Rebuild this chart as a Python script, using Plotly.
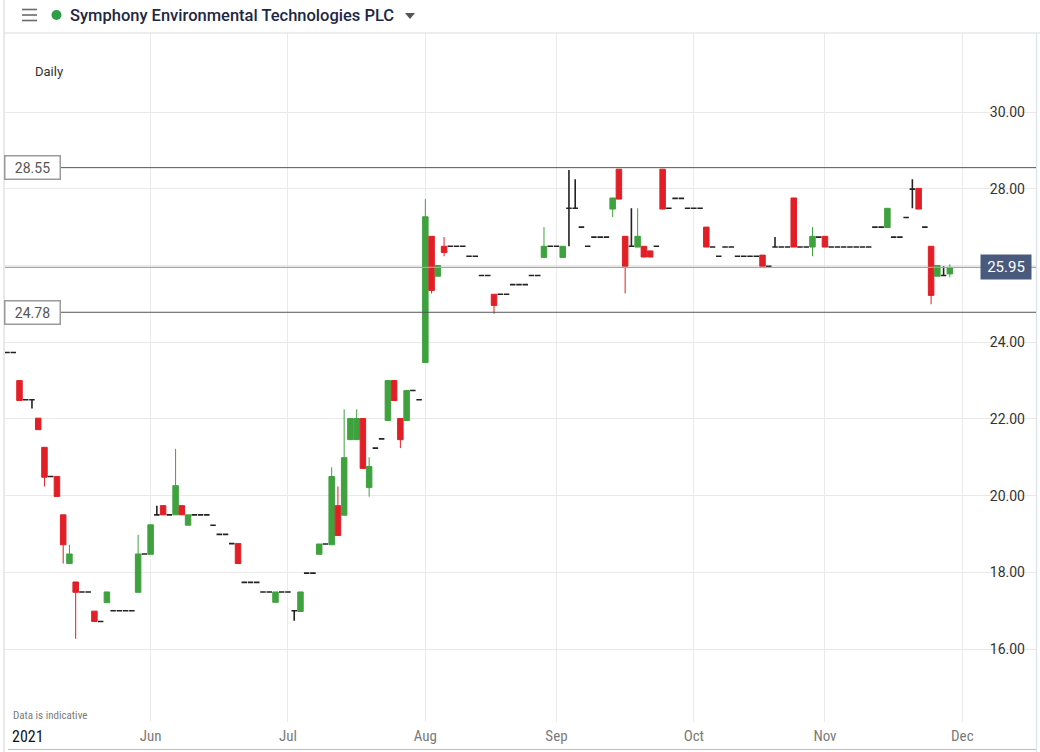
import pandas as pd
import plotly.graph_objects as go

# ---------------- data ----------------
title_text = "Symphony Environmental Technologies PLC"
interval_label = "Daily"
uk_holidays = ["2021-05-03", "2021-05-31", "2021-08-30", "2021-12-27", "2021-12-28"]
calendar = pd.bdate_range("2021-04-27", "2021-12-31", freq="C", holidays=uk_holidays)

open_ = [23.73, 23.73, 23.00, 22.50, 22.50, 22.02, 21.26, 20.50, 20.50, 19.50,
         18.23, 17.75, 17.49, 17.49, 16.99, 16.72, 17.21, 17.00, 17.00, 17.00,
         17.00, 17.48, 18.48, 18.47, 19.50, 19.74, 19.50, 19.50, 19.74, 19.23,
         19.50, 19.50, 19.50, 19.23, 18.99, 18.99, 18.75, 18.75, 17.74, 17.74,
         17.74, 17.49, 17.49, 17.22, 17.49, 17.49, 17.00, 16.98, 17.98, 17.98,
         18.47, 18.74, 18.72, 19.74, 19.49, 21.46, 21.46, 22.01, 20.21, 21.24,
         21.48, 21.96, 23.00, 22.01, 21.96, 22.74, 22.50, 23.47, 26.76, 25.72,
         26.50, 26.50, 26.50, 26.50, 26.24, 26.24, 25.74, 25.74, 25.25, 25.25,
         25.25, 25.50, 25.50, 25.50, 25.74, 25.74, 26.21, 26.50, 26.50, 26.21,
         27.49, 27.49, 27.00, 26.50, 26.74, 26.74, 26.74, 27.47, 28.51, 26.76,
         26.50, 26.48, 26.50, 26.38, 26.50, 28.51, 27.49, 27.75, 27.75, 27.49,
         27.49, 27.49, 27.00, 26.48, 26.24, 26.48, 26.48, 26.24, 26.24, 26.24,
         26.24, 26.27, 25.98, 26.48, 26.48, 26.48, 27.76, 26.48, 26.48, 26.48,
         26.74, 26.76, 26.48, 26.48, 26.48, 26.48, 26.48, 26.48, 26.48, 27.00,
         27.00, 26.99, 26.74, 26.74, 27.25, 27.99, 28.01, 27.00, 26.50, 25.72,
         25.74, 25.78]
high_ = [23.73, 23.73, 23.00, 22.50, 22.50, 22.02, 21.26, 20.50, 20.50, 19.50,
         18.72, 17.75, 17.49, 17.49, 16.99, 16.72, 17.49, 17.00, 17.00, 17.00,
         17.00, 18.98, 18.48, 19.24, 19.74, 19.74, 19.50, 21.22, 19.74, 19.50,
         19.50, 19.50, 19.50, 19.23, 18.99, 18.99, 18.75, 18.75, 17.74, 17.74,
         17.74, 17.49, 17.49, 17.49, 17.49, 17.49, 17.00, 17.49, 17.98, 17.98,
         18.74, 18.74, 20.74, 20.24, 22.25, 22.01, 22.25, 22.01, 21.00, 21.24,
         21.48, 23.00, 23.00, 22.01, 22.74, 22.74, 22.50, 27.73, 26.76, 26.00,
         26.74, 26.50, 26.50, 26.50, 26.24, 26.24, 25.74, 25.74, 25.25, 25.25,
         25.25, 25.50, 25.50, 25.50, 25.74, 25.74, 27.00, 26.50, 26.50, 26.50,
         28.49, 28.25, 27.00, 26.50, 26.74, 26.74, 26.74, 27.76, 28.51, 26.76,
         27.49, 27.49, 26.50, 26.38, 26.50, 28.51, 27.49, 27.75, 27.75, 27.49,
         27.49, 27.49, 27.00, 26.48, 26.24, 26.48, 26.48, 26.24, 26.24, 26.24,
         26.24, 26.27, 25.98, 26.74, 26.48, 26.48, 27.76, 26.48, 26.48, 27.00,
         26.74, 26.76, 26.48, 26.48, 26.48, 26.48, 26.48, 26.48, 26.48, 27.00,
         27.00, 27.49, 26.74, 26.74, 27.25, 28.25, 28.01, 27.00, 26.50, 26.00,
         25.98, 26.03]
low_ = [23.73, 23.73, 22.48, 22.50, 22.27, 21.72, 20.24, 20.50, 19.98, 18.23,
        18.23, 16.27, 17.49, 17.49, 16.72, 16.72, 17.21, 17.00, 17.00, 17.00,
        17.00, 17.48, 18.48, 18.47, 19.50, 19.50, 19.50, 19.50, 19.50, 19.23,
        19.50, 19.50, 19.50, 19.23, 18.99, 18.99, 18.75, 18.23, 17.74, 17.74,
        17.74, 17.49, 17.49, 17.22, 17.49, 17.49, 16.74, 16.98, 17.98, 17.98,
        18.47, 18.74, 18.72, 18.96, 19.49, 21.46, 21.46, 20.71, 19.97, 21.24,
        21.48, 21.96, 22.48, 21.24, 21.96, 22.74, 22.50, 23.47, 25.27, 25.72,
        26.24, 26.50, 26.50, 26.50, 26.24, 26.24, 25.74, 25.74, 24.74, 25.25,
        25.25, 25.50, 25.50, 25.50, 25.74, 25.74, 26.21, 26.50, 26.50, 26.21,
        26.50, 27.49, 27.00, 26.50, 26.74, 26.74, 26.74, 27.26, 27.73, 25.27,
        26.50, 26.48, 26.22, 26.22, 26.50, 27.47, 27.49, 27.75, 27.75, 27.49,
        27.49, 27.49, 26.48, 26.48, 26.24, 26.48, 26.48, 26.24, 26.24, 26.24,
        26.24, 25.98, 25.98, 26.48, 26.48, 26.48, 26.48, 26.48, 26.48, 26.24,
        26.74, 26.48, 26.48, 26.48, 26.48, 26.48, 26.48, 26.48, 26.48, 27.00,
        27.00, 26.99, 26.74, 26.74, 27.25, 27.49, 27.47, 27.00, 24.99, 25.72,
        25.74, 25.69]
close_ = [23.73, 23.73, 22.48, 22.50, 22.50, 21.72, 20.48, 20.50, 19.98, 18.72,
          18.48, 17.48, 17.49, 17.49, 16.72, 16.72, 17.49, 17.00, 17.00, 17.00,
          17.00, 18.48, 18.48, 19.24, 19.50, 19.50, 19.50, 20.26, 19.50, 19.50,
          19.50, 19.50, 19.50, 19.23, 18.99, 18.99, 18.75, 18.23, 17.74, 17.74,
          17.74, 17.49, 17.49, 17.49, 17.49, 17.49, 17.00, 17.49, 17.98, 17.98,
          18.74, 18.74, 20.50, 18.96, 20.99, 22.01, 22.01, 20.71, 20.76, 21.24,
          21.48, 23.00, 22.48, 21.46, 22.74, 22.74, 22.50, 27.27, 25.35, 26.00,
          26.34, 26.50, 26.50, 26.50, 26.24, 26.24, 25.74, 25.74, 24.96, 25.25,
          25.25, 25.50, 25.50, 25.50, 25.74, 25.74, 26.50, 26.50, 26.50, 26.50,
          27.49, 27.49, 27.00, 26.50, 26.74, 26.74, 26.74, 27.76, 27.73, 25.98,
          26.50, 26.76, 26.22, 26.22, 26.50, 27.47, 27.49, 27.75, 27.75, 27.49,
          27.49, 27.49, 26.48, 26.48, 26.24, 26.48, 26.48, 26.24, 26.24, 26.24,
          26.24, 25.98, 25.98, 26.48, 26.48, 26.48, 26.48, 26.48, 26.48, 26.76,
          26.74, 26.48, 26.48, 26.48, 26.48, 26.48, 26.48, 26.48, 26.48, 27.00,
          27.00, 27.49, 26.74, 26.74, 27.25, 27.99, 27.47, 27.00, 25.22, 26.00,
          25.74, 25.95]

level_high = 28.55
level_low = 24.78
month_labels = ["Jun", "Jul", "Aug", "Sep", "Oct", "Nov", "Dec"]
month_keys = ["2021-06", "2021-07", "2021-08", "2021-09", "2021-10", "2021-11", "2021-12"]
year_label = "2021"
y_ticks = [16, 18, 20, 22, 24, 26, 28, 30]

# ---------------- colours / geometry ----------------
GREEN = "#3fa23f"
RED = "#e21f26"
DOJI = "#222222"
W, H = 1040, 752
L, R, T, B = 5, 1036, 33, 722  # plot area in pixels


def px(x):
    return (x - L) / (R - L)


def py(y):
    return (B - y) / (B - T)


n = len(open_)
dates = calendar[:n]
idx = list(range(n))
cal_month = [d.strftime("%Y-%m") for d in calendar]
tick_pos = [cal_month.index(k) for k in month_keys]

body_i = [i for i in idx if open_[i] != close_[i]]
doji_i = [i for i in idx if open_[i] == close_[i]]

fig = go.Figure()
fig.add_trace(go.Candlestick(
    x=body_i,
    open=[open_[i] for i in body_i], high=[high_[i] for i in body_i],
    low=[low_[i] for i in body_i], close=[close_[i] for i in body_i],
    increasing=dict(fillcolor=GREEN, line=dict(color=GREEN, width=1)),
    decreasing=dict(fillcolor=RED, line=dict(color=RED, width=1)),
    hovertext=[dates[i].strftime("%d %b %Y") for i in body_i],
    name="OHLC",
))
fig.add_trace(go.Candlestick(
    x=doji_i,
    open=[open_[i] for i in doji_i], high=[high_[i] for i in doji_i],
    low=[low_[i] for i in doji_i], close=[close_[i] for i in doji_i],
    increasing=dict(fillcolor=DOJI, line=dict(color=DOJI, width=1.6)),
    decreasing=dict(fillcolor=DOJI, line=dict(color=DOJI, width=1.6)),
    hovertext=[dates[i].strftime("%d %b %Y") for i in doji_i],
    name="Doji",
))

last_price = close_[-1]

shapes = [
    # header separator & borders
    dict(type="line", xref="paper", yref="paper", x0=px(4), x1=px(W), y0=py(33), y1=py(33),
         line=dict(color="#dcdcdc", width=1)),
    dict(type="line", xref="paper", yref="paper", x0=px(4), x1=px(4), y0=py(0), y1=py(H),
         line=dict(color="#d4d4d4", width=1)),
    dict(type="line", xref="paper", yref="paper", x0=px(1036.5), x1=px(1036.5), y0=py(33), y1=py(H),
         line=dict(color="#dfe5ea", width=1.5)),
    dict(type="line", xref="paper", yref="paper", x0=px(8), x1=px(1036), y0=py(749.5), y1=py(749.5),
         line=dict(color="#bdbdbd", width=1)),
    # hamburger icon
    dict(type="line", xref="paper", yref="paper", x0=px(22), x1=px(37), y0=py(9.5), y1=py(9.5),
         line=dict(color="#6b6b6b", width=1.6)),
    dict(type="line", xref="paper", yref="paper", x0=px(22), x1=px(37), y0=py(15), y1=py(15),
         line=dict(color="#6b6b6b", width=1.6)),
    dict(type="line", xref="paper", yref="paper", x0=px(22), x1=px(37), y0=py(20.5), y1=py(20.5),
         line=dict(color="#6b6b6b", width=1.6)),
    # green status dot
    dict(type="circle", xref="paper", yref="paper", x0=px(51.5), x1=px(61.5), y0=py(10), y1=py(20),
         fillcolor="#2f9e44", line=dict(color="#2f9e44", width=0)),
    # dropdown triangle
    dict(type="path", xref="paper", yref="paper",
         path=f"M {px(405)},{py(13)} L {px(415)},{py(13)} L {px(410)},{py(19)} Z",
         fillcolor="#555555", line=dict(color="#555555", width=0)),
    # price levels
    dict(type="line", xref="paper", yref="y", x0=px(61), x1=1, y0=level_high, y1=level_high,
         line=dict(color="#555555", width=1)),
    dict(type="line", xref="paper", yref="y", x0=px(61), x1=1, y0=level_low, y1=level_low,
         line=dict(color="#555555", width=1)),
    dict(type="line", xref="paper", yref="y", x0=0, x1=1, y0=last_price, y1=last_price,
         line=dict(color="#a5a5a5", width=1.2)),
]

annotations = [
    dict(text=title_text, xref="paper", yref="paper", x=px(68), y=py(16), xanchor="left",
         yanchor="middle", showarrow=False,
         font=dict(family="Roboto, Open Sans, sans-serif", size=16.5, color="#1d2844", weight=500)),
    dict(text=interval_label, xref="paper", yref="paper", x=px(33), y=py(71), xanchor="left",
         yanchor="middle", showarrow=False,
         font=dict(family="Roboto, sans-serif", size=13, color="#333333")),
    dict(text="Data is indicative", xref="paper", yref="paper", x=px(11), y=py(715), xanchor="left",
         yanchor="middle", showarrow=False,
         font=dict(family="Liberation Sans Narrow, Roboto Condensed, sans-serif", size=11, color="#7a7a7a")),
    dict(text=year_label, xref="paper", yref="paper", x=px(10), y=py(736), xanchor="left",
         yanchor="middle", showarrow=False,
         font=dict(family="Liberation Sans Narrow, Roboto Condensed, sans-serif", size=16, color="#111111")),
    dict(text=f"{level_high:.2f}", xref="paper", yref="y", x=px(4), y=level_high, xanchor="left",
         yanchor="middle", showarrow=False, bgcolor="white", bordercolor="#9a9a9a", borderwidth=1.5,
         borderpad=2, width=50, height=18,
         font=dict(family="Roboto, sans-serif", size=14, color="#555555")),
    dict(text=f"{level_low:.2f}", xref="paper", yref="y", x=px(4), y=level_low, xanchor="left",
         yanchor="middle", showarrow=False, bgcolor="white", bordercolor="#9a9a9a", borderwidth=1.5,
         borderpad=2, width=50, height=18,
         font=dict(family="Roboto, sans-serif", size=14, color="#555555")),
    dict(text=f"{last_price:.2f}", xref="paper", yref="y", x=px(1032), y=last_price, xanchor="right",
         yanchor="middle", showarrow=False, bgcolor="#4a5a7c", borderpad=3, width=44, height=18,
         font=dict(family="Roboto, sans-serif", size=15, color="white")),
]

fig.update_layout(
    width=W, height=H,
    margin=dict(l=L, r=W - R, t=T, b=H - B),
    paper_bgcolor="white", plot_bgcolor="white",
    showlegend=False,
    boxgap=0.12, boxgroupgap=0,
    shapes=shapes, annotations=annotations,
    hovermode="x",
)
fig.update_xaxes(
    range=[-0.32, 164.8],
    tickvals=tick_pos, ticktext=month_labels,
    showgrid=True, gridcolor="#ebebeb", gridwidth=1,
    zeroline=False, showline=False, ticks="",
    ticklabelstandoff=3,
    tickfont=dict(family="Liberation Sans Narrow, Roboto Condensed, sans-serif", size=15, color="#7a7a7a"),
    rangeslider=dict(visible=False),
)
fig.update_yaxes(
    range=[14.10, 32.06], side="right",
    tickvals=y_ticks,
    ticktext=["" if v == 26 else f"{v:.2f}" for v in y_ticks],
    ticklabelposition="inside",
    ticklabelstandoff=8,
    showgrid=True, gridcolor="#e9e9e9", gridwidth=1.3,
    zeroline=False, showline=False, ticks="",
    tickfont=dict(family="Roboto, sans-serif", size=14, color="#333333"),
)

fig.write_html("out.html", config={"displayModeBar": False},
               post_script="document.body.style.margin='0';")
